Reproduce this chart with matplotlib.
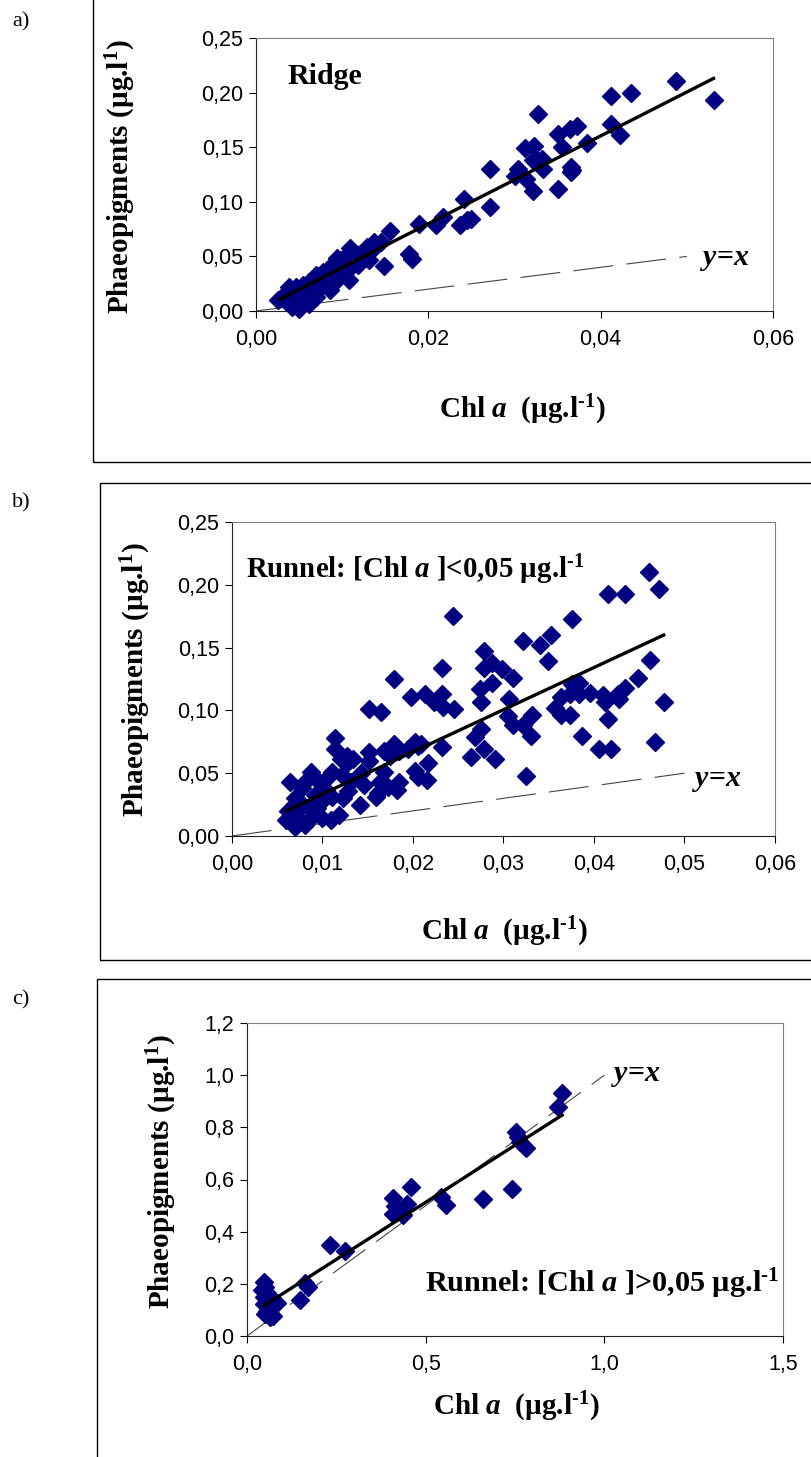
import matplotlib
matplotlib.use("Agg")
import matplotlib.pyplot as plt
from matplotlib.ticker import FuncFormatter, MultipleLocator
from matplotlib.patches import Rectangle

plt.rcParams['mathtext.fontset'] = 'custom'
plt.rcParams['mathtext.rm'] = 'Liberation Serif:bold'
plt.rcParams['mathtext.it'] = 'Liberation Serif:italic:bold'
plt.rcParams['mathtext.bf'] = 'Liberation Serif:bold'

# a) Ridge
ridge_chl = [0.0488, 0.0531, 0.0412, 0.0435, 0.0327, 0.0412, 0.0422, 0.0350, 0.0364, 0.0373,
             0.0384, 0.0355, 0.0312, 0.0323, 0.0325, 0.0332, 0.0321, 0.0333, 0.0365, 0.0367,
             0.0365, 0.0304, 0.0301, 0.0313, 0.0322, 0.0350, 0.0271, 0.0271, 0.0241, 0.0237,
             0.0245, 0.0250, 0.0209, 0.0217, 0.0189, 0.0155, 0.0149, 0.0181, 0.0177, 0.0145,
             0.0137, 0.0131, 0.0109, 0.0118, 0.0108, 0.0086, 0.0135, 0.0118, 0.0098, 0.0090,
             0.0094, 0.0086, 0.0102, 0.0078, 0.0070, 0.0082, 0.0062, 0.0054, 0.0046, 0.0038,
             0.0034, 0.0026, 0.0036, 0.0042, 0.0050, 0.0048, 0.0058, 0.0066, 0.0076, 0.0062,
             0.0054, 0.0044, 0.0070, 0.0104, 0.0126, 0.0129, 0.0108, 0.0094, 0.0078, 0.0058,
             0.0046, 0.0038]
ridge_phaeo = [0.211, 0.193, 0.197, 0.200, 0.180, 0.171, 0.161, 0.162, 0.167, 0.169,
               0.154, 0.150, 0.149, 0.151, 0.139, 0.139, 0.138, 0.130, 0.132, 0.129,
               0.127, 0.130, 0.124, 0.121, 0.110, 0.112, 0.130, 0.0954, 0.103, 0.0792,
               0.0832, 0.0847, 0.0786, 0.0862, 0.0795, 0.0734, 0.0410, 0.048, 0.052, 0.0633,
               0.0633, 0.0465, 0.0581, 0.0419, 0.028, 0.019, 0.056, 0.0515, 0.047, 0.044,
               0.0485, 0.039, 0.0407, 0.036, 0.033, 0.0315, 0.027, 0.0238, 0.022, 0.0216,
               0.016, 0.0105, 0.0083, 0.0037, 0.0022, 0.0099, 0.013, 0.0176, 0.022, 0.0068,
               0.0099, 0.0145, 0.013, 0.036, 0.0485, 0.059, 0.053, 0.028, 0.025, 0.019,
               0.0114, 0.013]
ridge_fit_x = [0.0027, 0.0531]
ridge_fit_y = [0.0104, 0.213]

# b) Runnel, [Chl a] < 0,05
low_chl = [0.0461, 0.0472, 0.0415, 0.0434, 0.0244, 0.0376, 0.0322, 0.0340, 0.0353, 0.0278,
           0.0349, 0.0232, 0.0462, 0.0278, 0.0287, 0.0298, 0.0179, 0.0310, 0.0449, 0.0287,
           0.0274, 0.0213, 0.0198, 0.0232, 0.0223, 0.0233, 0.0245, 0.0275, 0.0306, 0.0151,
           0.0165, 0.0376, 0.0383, 0.0364, 0.0374, 0.0383, 0.0396, 0.0410, 0.0412, 0.0427,
           0.0434, 0.0428, 0.0477, 0.0357, 0.0364, 0.0373, 0.0332, 0.0305, 0.0311, 0.0321,
           0.0330, 0.0415, 0.0387, 0.0406, 0.0419, 0.0467, 0.0325, 0.0275, 0.0269, 0.0279,
           0.0264, 0.0291, 0.0232, 0.0114, 0.0114, 0.0202, 0.0209, 0.0217, 0.0202, 0.0216,
           0.0195, 0.0179, 0.0168, 0.0175, 0.0184, 0.0151, 0.0151, 0.0134, 0.0127, 0.0120,
           0.0168, 0.0164, 0.0184, 0.0182, 0.0161, 0.0172, 0.0141, 0.0128, 0.0142, 0.0121,
           0.0123, 0.0111, 0.0108, 0.0087, 0.0083, 0.0064, 0.0077, 0.0070, 0.0092, 0.0100,
           0.0062, 0.0060, 0.0070, 0.0073, 0.0085, 0.0089, 0.0100, 0.0109, 0.0118, 0.0079,
           0.0096, 0.0104, 0.0132, 0.0146, 0.0159, 0.0111, 0.0127, 0.0205, 0.0206, 0.0094,
           0.0068, 0.0081]
low_phaeo = [0.210, 0.197, 0.193, 0.193, 0.175, 0.173, 0.155, 0.152, 0.160, 0.147,
             0.139, 0.134, 0.140, 0.134, 0.138, 0.133, 0.125, 0.126, 0.126, 0.122,
             0.117, 0.113, 0.111, 0.113, 0.107, 0.103, 0.101, 0.107, 0.109, 0.101,
             0.099, 0.121, 0.122, 0.111, 0.113, 0.113, 0.114, 0.112, 0.107, 0.113,
             0.118, 0.109, 0.107, 0.102, 0.096, 0.096, 0.096, 0.0956, 0.088, 0.088,
             0.080, 0.0935, 0.080, 0.069, 0.069, 0.075, 0.048, 0.085, 0.079, 0.069,
             0.063, 0.0616, 0.0707, 0.078, 0.069, 0.075, 0.073, 0.058, 0.052, 0.0445,
             0.069, 0.073, 0.068, 0.064, 0.0676, 0.067, 0.060, 0.0616, 0.058, 0.0616,
             0.051, 0.043, 0.043, 0.0367, 0.034, 0.039, 0.025, 0.036, 0.050, 0.0485,
             0.030, 0.031, 0.0485, 0.051, 0.0445, 0.0427, 0.038, 0.030, 0.033, 0.0275,
             0.020, 0.013, 0.007, 0.0144, 0.022, 0.0157, 0.0144, 0.013, 0.017, 0.025,
             0.043, 0.0367, 0.043, 0.0406, 0.031, 0.051, 0.064, 0.072, 0.047, 0.022,
             0.025, 0.009]
low_fit_x = [0.0060, 0.0477]
low_fit_y = [0.0200, 0.1600]

# c) Runnel, [Chl a] > 0,05
high_chl = [0.882, 0.871, 0.752, 0.758, 0.763, 0.780, 0.742, 0.660, 0.544, 0.558,
            0.460, 0.409, 0.414, 0.447, 0.409, 0.437, 0.233, 0.274, 0.163, 0.172,
            0.149, 0.0465, 0.051, 0.056, 0.0465, 0.065, 0.084, 0.048, 0.051, 0.065,
            0.056, 0.074, 0.042]
high_phaeo = [0.930, 0.879, 0.783, 0.764, 0.744, 0.721, 0.565, 0.526, 0.533, 0.504,
              0.571, 0.530, 0.500, 0.507, 0.468, 0.462, 0.347, 0.327, 0.205, 0.186,
              0.139, 0.208, 0.189, 0.163, 0.148, 0.141, 0.128, 0.122, 0.083, 0.071,
              0.096, 0.077, 0.176]
high_fit_x = [0.0465, 0.882]
high_fit_y = [0.1155, 0.847]

W, H = 812, 1457
fig = plt.figure(figsize=(W / 100, H / 100), dpi=100)

NAVY = '#000080'
SERIF = 'Liberation Serif'
SANS = 'Liberation Sans'


def box(l, t, r, b):
    # rectangle in pixel coords (origin top-left)
    return [l / W, 1 - b / H, (r - l) / W, (b - t) / H]


def comma(dec):
    return FuncFormatter(lambda v, p: f"{v:.{dec}f}".replace('.', ','))


def panel(rect, xs, ys, fx, fy, xmax, xstep, ymax, ystep, xdec, ydec, diag_end):
    ax = fig.add_axes(box(*rect))
    ax.plot(xs, ys, 'D', color=NAVY, ms=9, mec=NAVY, zorder=3, clip_on=False)
    ax.plot(fx, fy, color='black', lw=2.4, zorder=4)
    ax.plot([0, diag_end], [0, diag_end], color='#444444', lw=0.8,
            dashes=(36, 12), zorder=2)
    ax.set_xlim(0, xmax)
    ax.set_ylim(0, ymax)
    ax.xaxis.set_major_locator(MultipleLocator(xstep))
    ax.yaxis.set_major_locator(MultipleLocator(ystep))
    ax.xaxis.set_major_formatter(comma(xdec))
    ax.yaxis.set_major_formatter(comma(ydec))
    ax.tick_params(direction='out', length=5, width=0.8, labelsize=15.5, pad=4)
    ax.tick_params(axis='x', pad=8)
    for lab in ax.get_xticklabels() + ax.get_yticklabels():
        lab.set_family(SANS)
    for s in ['top', 'right']:
        ax.spines[s].set_color('#808080')
    for s in ['left', 'bottom']:
        ax.spines[s].set_color('#222222')
    return ax


def frame(l, t, r, b):
    fig.patches.append(Rectangle((l / W, 1 - b / H), (r - l) / W, (b - t) / H,
                                 transform=fig.transFigure, fill=False,
                                 edgecolor='black', lw=1.0))


ylab = "Phaeopigments (µg.l$^{1}$)"
xlab = "Chl $\\mathit{a}$  (µg.l$^{\\text{-}1}$)"
lab_kw = dict(family=SERIF, weight='bold', fontsize=21)

# panel a
frame(93, -5, 830, 462)
ax1 = panel((256, 38, 773, 311), ridge_chl, ridge_phaeo, ridge_fit_x, ridge_fit_y,
            0.06, 0.02, 0.25, 0.05, 2, 2, 0.05)
ax1.text(0.0037, 0.215, "Ridge", family=SERIF, weight='bold', fontsize=21.5, va='center')
ax1.text(0.0515, 0.047, "$y$=$x$", family=SERIF, weight='bold', fontsize=21.5, va='center')
fig.text(121 / W, 1 - 177 / H, ylab, rotation=90, ha='center', va='center', **lab_kw)
fig.text(522 / W, 1 - 410 / H, xlab, ha='center', va='center', **lab_kw)
fig.text(12 / W, 1 - 22 / H, "a)", family=SERIF, fontsize=16, va='center')

# panel b
frame(100, 483, 830, 960)
ax2 = panel((232, 522, 775, 836), low_chl, low_phaeo, low_fit_x, low_fit_y,
            0.06, 0.01, 0.25, 0.05, 2, 2, 0.05)
ax2.text(0.0016, 0.212, "Runnel: [Chl $\\mathit{a}$ ]<0,05 µg.l$^{\\text{-}1}$",
         family=SERIF, weight='bold', fontsize=20.8, va='center')
ax2.text(0.0508, 0.044, "$y$=$x$", family=SERIF, weight='bold', fontsize=21.5, va='center')
fig.text(136 / W, 1 - 680 / H, ylab, rotation=90, ha='center', va='center', **lab_kw)
fig.text(504 / W, 1 - 932 / H, xlab, ha='center', va='center', **lab_kw)
fig.text(12 / W, 1 - 503 / H, "b)", family=SERIF, fontsize=16, va='center')

# panel c
frame(97, 979, 830, 1480)
ax3 = panel((247, 1023, 783, 1336), high_chl, high_phaeo, high_fit_x, high_fit_y,
            1.5, 0.5, 1.2, 0.2, 1, 1, 1.0)
ax3.text(1.02, 1.0, "$y$=$x$", family=SERIF, weight='bold', fontsize=21.5, va='center')
ax3.text(1.49, 0.2, "Runnel: [Chl $\\mathit{a}$ ]>0,05 µg.l$^{\\text{-}1}$",
         family=SERIF, weight='bold', fontsize=21.8, ha='right', va='center')
fig.text(162 / W, 1 - 1172 / H, ylab, rotation=90, ha='center', va='center', **lab_kw)
fig.text(516 / W, 1 - 1407 / H, xlab, ha='center', va='center', **lab_kw)
fig.text(12 / W, 1 - 1000 / H, "c)", family=SERIF, fontsize=16, va='center')

fig.savefig("out.png", dpi=100)
